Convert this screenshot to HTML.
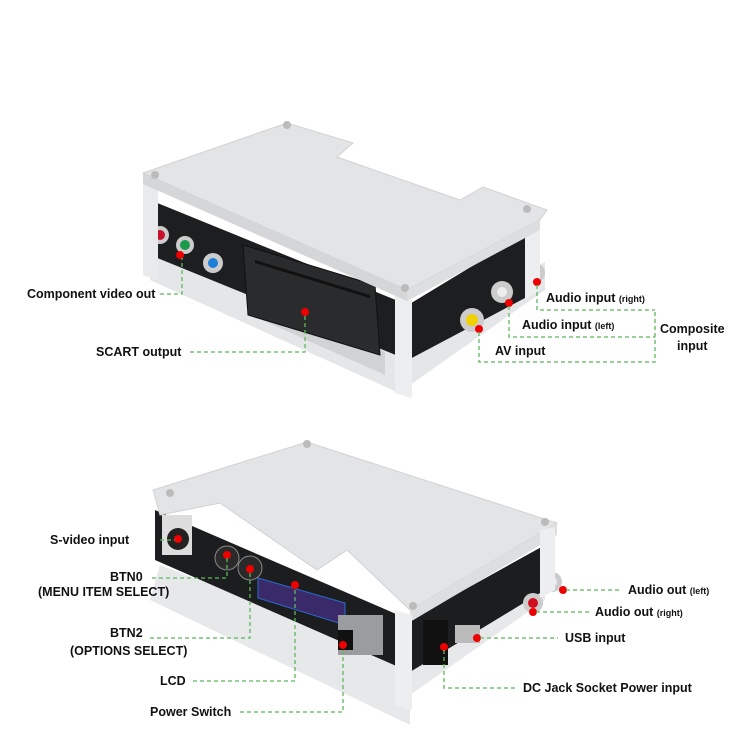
<!DOCTYPE html>
<html><head><meta charset="utf-8"><style>
html,body{margin:0;padding:0;background:#fff}
svg{display:block}
text{font-family:"Liberation Sans",sans-serif;font-weight:bold;font-size:12.5px;fill:#111}
.s{font-size:9px}
.d{stroke:#5cb85c;stroke-width:1.3;stroke-dasharray:4 3;fill:none}
</style></head><body>
<svg width="750" height="750" viewBox="0 0 750 750">
<!-- TOP DEVICE -->
<!-- bottom plate -->
<polygon points="150,230 410,340 545,262 545,290 410,385 410,398 150,280" fill="#e4e6e8"/>
<polygon points="262,300 385,352 385,375 262,320" fill="#d0d2d4"/>
<!-- dark inner body -->
<polygon points="150,200 408,305 540,225 540,290 408,360 150,255" fill="#1d1e20"/>
<!-- scart -->
<polygon points="243,245 375,285 380,355 248,315" fill="#2a2b2d" stroke="#111"/>
<g fill="#111">
<rect x="255" y="260" width="115" height="3" transform="skewY(17) translate(0,-78)"/>
</g>
<!-- RCA connectors top -->
<circle cx="160" cy="235" r="9" fill="#ccc"/><circle cx="160" cy="235" r="5" fill="#c8102e"/>
<circle cx="185" cy="245" r="9" fill="#ccc"/><circle cx="185" cy="245" r="5" fill="#1a9a4a"/>
<circle cx="213" cy="263" r="10" fill="#ccc"/><circle cx="213" cy="263" r="5" fill="#1e7fd6"/>
<circle cx="535" cy="273" r="10" fill="#ccc"/><circle cx="535" cy="273" r="5" fill="#d01020"/>
<circle cx="502" cy="292" r="11" fill="#ccc"/><circle cx="502" cy="292" r="5" fill="#eee"/>
<circle cx="472" cy="320" r="12" fill="#ccc"/><circle cx="472" cy="320" r="6" fill="#f0d000"/>
<!-- pillars -->
<polygon points="143,183 158,188 158,280 143,275" fill="#e8eaec"/>
<polygon points="395,295 412,300 412,398 395,393" fill="#eceef0"/>
<polygon points="525,218 540,222 540,290 525,300" fill="#eceef0"/>
<!-- top plate -->
<polygon points="143,173 287,123 353,143 337,157 460,200 483,187 547,210 540,220 407,290" fill="#e2e4e6" stroke="#d0d2d4"/>
<polygon points="143,173 407,290 407,301 143,184" fill="#d4d6d8"/>
<polygon points="407,290 540,220 540,230 407,301" fill="#dcdee0"/>
<circle cx="155" cy="175" r="4" fill="#bbb"/><circle cx="287" cy="125" r="4" fill="#bbb"/>
<circle cx="405" cy="288" r="4" fill="#bbb"/><circle cx="527" cy="209" r="4" fill="#bbb"/>

<!-- BOTTOM DEVICE -->
<polygon points="160,565 410,660 545,578 545,600 410,695 410,725 150,600" fill="#e6e8ea"/>
<polygon points="155,510 410,620 545,545 545,590 410,672 155,560" fill="#1c1d1f"/>
<rect x="162" y="515" width="30" height="40" fill="#ddd"/>
<circle cx="178" cy="539" r="11" fill="#222"/>
<circle cx="227" cy="558" r="12" fill="#2a2a2a" stroke="#888"/>
<circle cx="250" cy="568" r="12" fill="#2a2a2a" stroke="#888"/>
<polygon points="258,578 345,603 345,625 258,598" fill="#3a2a6a" stroke="#2a6acc"/>
<rect x="338" y="615" width="45" height="40" fill="#9a9ca0"/>
<rect x="338" y="630" width="15" height="20" fill="#111"/>
<rect x="423" y="620" width="25" height="45" fill="#111"/>
<rect x="455" y="625" width="25" height="18" fill="#bbb"/>
<circle cx="533" cy="603" r="10" fill="#ccc"/><circle cx="533" cy="603" r="5" fill="#d01020"/>
<circle cx="552" cy="582" r="10" fill="#ccc"/><circle cx="552" cy="582" r="5" fill="#eee"/>
<!-- top plate with notch -->
<polygon points="153,490 307,442 557,523 410,610 347,550 317,570 220,503 160,515" fill="#e2e4e6" stroke="#d0d2d4"/>
<polygon points="410,610 557,523 557,535 410,622" fill="#dcdee0"/>
<polygon points="395,610 412,615 412,710 395,705" fill="#eceef0"/>
<polygon points="540,530 555,527 555,590 540,598" fill="#eceef0"/>
<circle cx="170" cy="493" r="4" fill="#bbb"/><circle cx="307" cy="444" r="4" fill="#bbb"/>
<circle cx="413" cy="606" r="4" fill="#bbb"/><circle cx="545" cy="522" r="4" fill="#bbb"/>

<!-- connectors / labels top -->
<g fill="#e00">
<circle cx="180" cy="255" r="4"/><circle cx="305" cy="312" r="4"/>
<circle cx="537" cy="282" r="4"/><circle cx="509" cy="303" r="4"/><circle cx="479" cy="329" r="4"/>
<circle cx="178" cy="539" r="4"/><circle cx="227" cy="555" r="4"/><circle cx="250" cy="569" r="4"/>
<circle cx="295" cy="585" r="4"/><circle cx="343" cy="645" r="4"/>
<circle cx="563" cy="590" r="4"/><circle cx="533" cy="612" r="4"/><circle cx="477" cy="638" r="4"/><circle cx="444" cy="647" r="4"/>
</g>
<path class="d" d="M160 294H182V258"/>
<path class="d" d="M190 352H305V315"/>
<path class="d" d="M537 285V310H655"/>
<path class="d" d="M509 306V337H655"/>
<path class="d" d="M479 332V362H655V310"/>
<path class="d" d="M160 540H175"/>
<path class="d" d="M152 578H227V558"/>
<path class="d" d="M150 638H250V572"/>
<path class="d" d="M193 681H295V588"/>
<path class="d" d="M240 712H343V648"/>
<path class="d" d="M566 590H622"/>
<path class="d" d="M536 612H590"/>
<path class="d" d="M480 638H558"/>
<path class="d" d="M444 650V688H515"/>

<text x="27" y="298">Component video out</text>
<text x="96" y="356">SCART output</text>
<text x="546" y="302">Audio input <tspan class="s">(right)</tspan></text>
<text x="522" y="329">Audio input <tspan class="s">(left)</tspan></text>
<text x="495" y="355">AV input</text>
<text x="660" y="333">Composite</text>
<text x="677" y="350">input</text>
<text x="50" y="544">S-video input</text>
<text x="110" y="581">BTN0</text>
<text x="38" y="596">(MENU ITEM SELECT)</text>
<text x="110" y="637">BTN2</text>
<text x="70" y="655">(OPTIONS SELECT)</text>
<text x="160" y="685">LCD</text>
<text x="150" y="716">Power Switch</text>
<text x="628" y="594">Audio out <tspan class="s">(left)</tspan></text>
<text x="595" y="616">Audio out <tspan class="s">(right)</tspan></text>
<text x="565" y="642">USB input</text>
<text x="523" y="692">DC Jack Socket Power input</text>
</svg>
</body></html>
